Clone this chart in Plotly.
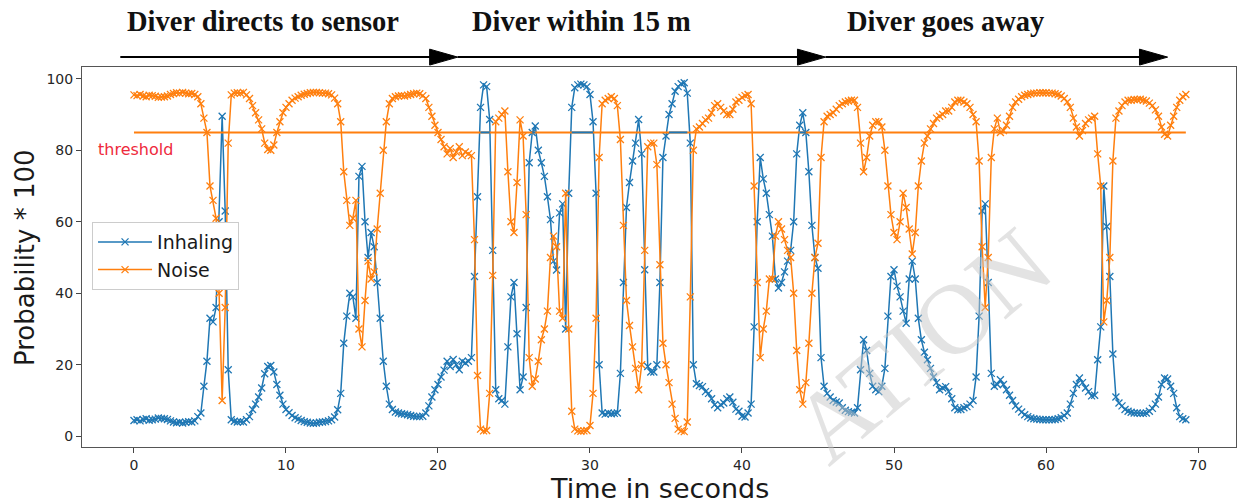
import plotly.graph_objects as go

# Classifier output (probability * 100), sampled every 0.2 s
SAMPLE_STEP = 0.2

inhaling = [
    4.4, 4.6, 4.3, 4.7, 4.9, 4.5, 4.6, 4.8, 5.1, 5.0,
    4.9, 4.7, 4.3, 4.0, 3.8, 3.9, 3.7, 3.9, 4.1, 4.0,
    4.3, 5.5, 6.5, 14.0, 21.0, 33.0, 32.0, 36.0, 60.0, 89.5,
    63.0, 18.6, 4.6, 4.2, 4.0, 4.1, 4.0, 4.6, 5.5, 7.5,
    9.0, 11.0, 13.5, 17.5, 19.5, 19.8, 18.0, 14.5, 11.5, 9.0,
    7.5, 6.6, 5.8, 5.2, 4.8, 4.4, 4.1, 3.9, 3.7, 3.6,
    3.7, 3.9, 4.0, 4.1, 4.3, 4.6, 5.4, 7.4, 12.0, 26.0,
    33.6, 40.0, 39.0, 33.0, 72.7, 75.5, 60.0, 50.0, 57.0, 53.0,
    43.0, 33.0, 21.0, 14.0, 9.0, 7.5, 6.8, 6.5, 6.3, 6.2,
    6.0, 5.8, 5.6, 5.5, 5.5, 5.6, 6.5, 8.5, 11.0, 13.0,
    14.5, 16.6, 18.5, 21.0, 19.5, 21.5, 20.0, 18.6, 21.0, 20.5,
    21.0, 22.0, 44.7, 67.0, 92.0, 98.3, 97.8, 88.6, 52.0, 13.0,
    10.5, 10.0, 9.0, 25.0, 39.0, 43.0, 28.7, 13.0, 16.6, 36.0,
    76.5, 85.0, 86.8, 80.0, 76.5, 72.7, 67.0, 60.6, 49.0, 46.5,
    62.5, 65.0, 30.0, 68.0, 92.0, 97.5, 98.3, 98.5, 98.3, 97.8,
    95.6, 88.0, 68.0, 20.0, 6.5, 6.2, 6.5, 6.3, 6.4, 6.5,
    17.6, 43.0, 64.0, 71.0, 77.0, 82.0, 88.6, 79.0, 46.6, 19.5,
    18.0, 18.0, 20.0, 43.0, 78.0, 84.0, 90.0, 93.0, 96.5, 97.8,
    98.6, 98.9, 96.0, 82.0, 20.0, 14.7, 14.2, 13.9, 12.5, 12.0,
    10.5, 8.8, 8.0, 8.8, 9.3, 10.5, 11.0, 9.5, 7.6, 7.0,
    5.6, 5.4, 6.5, 9.0, 30.6, 60.0, 78.0, 72.0, 68.0, 62.0,
    56.0, 44.0, 41.5, 43.0, 46.0, 49.0, 52.0, 60.0, 79.0, 87.0,
    90.5, 85.0, 74.0, 59.0, 50.0, 47.0, 22.0, 14.0, 12.0, 11.0,
    10.0, 9.6, 9.3, 8.0, 7.3, 6.9, 6.7, 6.5, 8.0, 18.6,
    27.0, 24.0, 17.6, 14.0, 13.0, 12.5, 14.0, 19.0, 33.6, 44.7,
    46.6, 42.0, 39.0, 35.0, 31.6, 44.0, 49.0, 44.0, 33.0, 27.0,
    23.5, 21.4, 19.0, 16.6, 15.0, 13.0, 13.5, 13.9, 12.5, 10.5,
    8.0, 7.4, 7.5, 8.0, 8.3, 9.0, 10.0, 16.6, 33.6, 63.0,
    65.0, 43.0, 17.6, 14.0, 14.5, 15.8, 14.5, 13.0, 11.5, 10.0,
    8.5, 7.6, 6.8, 6.0, 5.5, 5.1, 4.9, 4.8, 4.7, 4.6,
    4.6, 4.6, 4.6, 4.7, 4.9, 5.2, 5.8, 6.5, 9.0, 12.0,
    14.5, 16.3, 15.0, 13.5, 12.5, 11.3, 11.5, 21.4, 30.6, 70.0,
    58.7, 44.7, 23.0, 11.0, 9.3, 8.5, 7.5, 7.0, 6.7, 6.5,
    6.5, 6.4, 6.4, 6.5, 7.0, 7.8, 9.0, 11.0, 14.5, 16.3,
    16.0, 14.0, 12.0, 8.0, 5.5, 4.9, 4.6,
]

noise = [
    95.5, 95.3, 95.6, 95.2, 95.0, 95.4, 95.3, 95.1, 94.8, 94.9,
    95.0, 95.2, 95.6, 95.9, 96.1, 96.0, 96.2, 96.0, 95.8, 95.9,
    95.6, 95.0, 93.0, 89.0, 85.0, 70.0, 66.0, 61.0, 40.0, 10.0,
    36.0, 82.0, 95.5, 96.0, 96.1, 96.0, 96.2, 95.5, 94.5, 92.5,
    90.5, 88.5, 86.0, 82.0, 80.2, 80.0, 81.5, 85.0, 88.0, 90.5,
    92.0, 93.0, 94.0, 94.6, 95.0, 95.4, 95.7, 95.9, 96.1, 96.2,
    96.2, 96.1, 96.0, 96.0, 95.8, 95.5, 94.6, 93.0, 88.0, 74.0,
    66.0, 59.0, 61.0, 66.0, 30.0, 25.0, 38.0, 49.0, 44.0, 46.0,
    58.0, 68.0, 80.0, 88.0, 93.0, 94.5, 95.0, 95.2, 95.3, 95.2,
    95.4, 95.6, 95.8, 96.0, 95.8, 95.3, 94.5, 92.0, 89.5, 87.0,
    85.0, 83.0, 81.0, 79.0, 80.5, 78.0, 79.5, 81.0, 78.5, 79.5,
    79.0, 78.5, 55.0, 17.0, 2.0, 1.5, 1.6, 12.0, 45.0, 88.0,
    89.0, 90.0, 91.0, 74.0, 60.0, 57.0, 71.0, 88.5, 84.0, 62.0,
    22.0, 14.0, 16.0, 21.0, 27.0, 30.0, 35.0, 50.0, 56.0, 53.0,
    35.0, 33.0, 68.0, 30.0, 7.0, 2.0, 1.5, 1.4, 1.5, 1.6,
    3.0, 12.0, 33.0, 78.0, 93.0, 94.0, 94.5, 95.0, 94.5, 92.5,
    83.0, 59.0, 38.0, 31.0, 25.0, 19.0, 13.0, 20.0, 52.0, 81.0,
    82.0, 82.0, 76.0, 48.0, 26.0, 20.0, 15.0, 9.0, 5.0, 2.0,
    1.5, 1.3, 4.0, 39.0, 80.0, 86.0, 86.5, 87.5, 88.5, 89.0,
    90.5, 92.5, 93.0, 92.0, 91.0, 90.0, 90.0, 91.5, 93.5, 94.0,
    94.8, 95.3, 95.6, 93.0, 70.0, 43.0, 22.0, 30.0, 35.0, 44.0,
    44.0, 56.0, 60.0, 58.0, 55.0, 52.0, 50.0, 40.0, 24.0, 13.0,
    9.0, 15.0, 26.0, 40.0, 50.0, 54.0, 78.0, 88.0, 89.5, 90.0,
    90.5, 91.5, 92.5, 93.0, 93.5, 93.8, 94.0, 94.0, 92.0, 82.0,
    74.0, 78.0, 84.0, 87.0, 88.0, 88.0, 86.5, 80.0, 70.0, 62.0,
    57.0, 55.0, 60.0, 68.0, 64.0, 58.0, 51.0, 57.0, 70.0, 77.0,
    82.0, 84.0, 86.0, 87.5, 89.0, 89.5, 90.0, 91.0, 91.0, 92.0,
    93.5, 94.0, 94.0, 93.5, 93.0, 92.0, 90.0, 88.0, 77.0, 53.0,
    36.0, 50.0, 78.0, 86.0, 89.0, 85.0, 85.5, 87.0, 89.5, 92.0,
    93.5, 94.3, 95.0, 95.4, 95.6, 95.8, 96.0, 96.0, 96.1, 96.1,
    96.1, 96.0, 96.0, 95.8, 95.6, 95.2, 94.5, 93.5, 92.0, 89.0,
    86.5, 84.0, 85.5, 87.5, 88.5, 89.0, 89.5, 79.0, 70.0, 32.0,
    38.0, 50.0, 77.0, 89.0, 91.0, 92.5, 93.5, 94.0, 94.0, 94.2,
    94.2, 94.3, 94.0, 93.8, 93.2, 92.5, 91.3, 89.5, 86.5, 84.5,
    84.0, 87.0, 89.5, 92.0, 94.0, 95.0, 95.6,
]

time_s = [round(i * SAMPLE_STEP, 1) for i in range(len(inhaling))]

THRESHOLD = 85

# Scenario phases: label and the time (s) where each arrow ends
phase_labels = ["Diver directs to sensor", "Diver within 15 m", "Diver goes away"]
phase_label_x = [-0.6, 22.1, 46.8]
phase_edges = [-0.9, 21.3, 45.5, 68.0]

x_ticks = [0, 10, 20, 30, 40, 50, 60, 70]
y_ticks = [0, 20, 40, 60, 80, 100]

BLUE = "#1f77b4"
ORANGE = "#ff7f0e"

fig = go.Figure()

fig.add_trace(go.Scatter(
    x=time_s, y=inhaling, name="Inhaling", mode="lines+markers",
    line=dict(color=BLUE, width=1.5),
    marker=dict(symbol="x-thin", size=7, line=dict(color=BLUE, width=1.3)),
))
fig.add_trace(go.Scatter(
    x=time_s, y=noise, name="Noise", mode="lines+markers",
    line=dict(color=ORANGE, width=1.5),
    marker=dict(symbol="x-thin", size=7, line=dict(color=ORANGE, width=1.3)),
))
# decision threshold
fig.add_trace(go.Scatter(
    x=[time_s[0], time_s[-1]], y=[THRESHOLD, THRESHOLD], mode="lines",
    line=dict(color=ORANGE, width=2), showlegend=False, hoverinfo="skip",
))
# spans where inhaling is above the threshold
above = [THRESHOLD if v >= THRESHOLD else None for v in inhaling]
fig.add_trace(go.Scatter(
    x=time_s, y=above, mode="lines", connectgaps=False,
    line=dict(color=BLUE, width=2), showlegend=False, hoverinfo="skip",
))

annotations = [
    dict(x=-2.5, y=80.2, xref="x", yref="y", text="threshold", showarrow=False,
         xanchor="left", yanchor="middle",
         font=dict(family="DejaVu Sans", size=16, color="#ee2a3c")),
    dict(x=-0.0494, y=0.5, xref="paper", yref="paper", text="Probability * 100",
         textangle=-90, showarrow=False, xanchor="center", yanchor="middle",
         font=dict(family="DejaVu Sans", size=26, color="#1a1a1a")),
    dict(x=0.5, y=-0.108, xref="paper", yref="paper", text="Time in seconds",
         showarrow=False, xanchor="center", yanchor="middle",
         font=dict(family="DejaVu Sans", size=27, color="#1a1a1a")),
    dict(x=0.728, y=0.268, xref="paper", yref="paper", text="ATION",
         textangle=-40, showarrow=False, xanchor="center", yanchor="middle",
         font=dict(family="Liberation Serif", size=100, color="rgba(200,200,200,0.5)")),
]
for label, lx in zip(phase_labels, phase_label_x):
    annotations.append(dict(
        x=lx, y=1.121, xref="x", yref="paper", text="<b>%s</b>" % label,
        showarrow=False, xanchor="left", yanchor="middle",
        font=dict(family="Liberation Serif", size=28.5, color="#111111"),
    ))

# phase arrows: shaft plus filled head
ARROW_Y = 1.026
HEAD_LEN = 1.85   # seconds
HEAD_HALF = 0.021  # paper units
shapes = []
for start, end in zip(phase_edges[:-1], phase_edges[1:]):
    shapes.append(dict(type="line", xref="x", yref="paper",
                       x0=start, x1=end - HEAD_LEN * 0.5, y0=ARROW_Y, y1=ARROW_Y,
                       line=dict(color="black", width=2)))
    shapes.append(dict(
        type="path", xref="x", yref="paper",
        path="M %f,%f L %f,%f L %f,%f Z" % (
            end - HEAD_LEN, ARROW_Y + HEAD_HALF, end, ARROW_Y,
            end - HEAD_LEN, ARROW_Y - HEAD_HALF),
        fillcolor="black", line=dict(color="black", width=1)))

axis_common = dict(
    showgrid=False, zeroline=False, showline=True, mirror=True,
    linecolor="#555555", linewidth=1, ticks="outside", ticklen=5,
    tickcolor="#444444", tickfont=dict(family="DejaVu Sans", size=14, color="#262626"),
)

fig.update_layout(
    width=1239, height=503,
    margin=dict(l=82, r=3, t=67, b=56),
    paper_bgcolor="white", plot_bgcolor="white",
    xaxis=dict(range=[-3.42, 72.5], tickvals=x_ticks, **axis_common),
    yaxis=dict(range=[-3.0, 103.3], tickvals=y_ticks, **axis_common),
    legend=dict(x=0.0087, y=0.592, xanchor="left", yanchor="top",
                bgcolor="white", bordercolor="#cccccc", borderwidth=1,
                itemwidth=54,
                font=dict(family="DejaVu Sans", size=19, color="#1a1a1a")),
    annotations=annotations,
    shapes=shapes,
    showlegend=True,
)

fig.write_html("out.html")
